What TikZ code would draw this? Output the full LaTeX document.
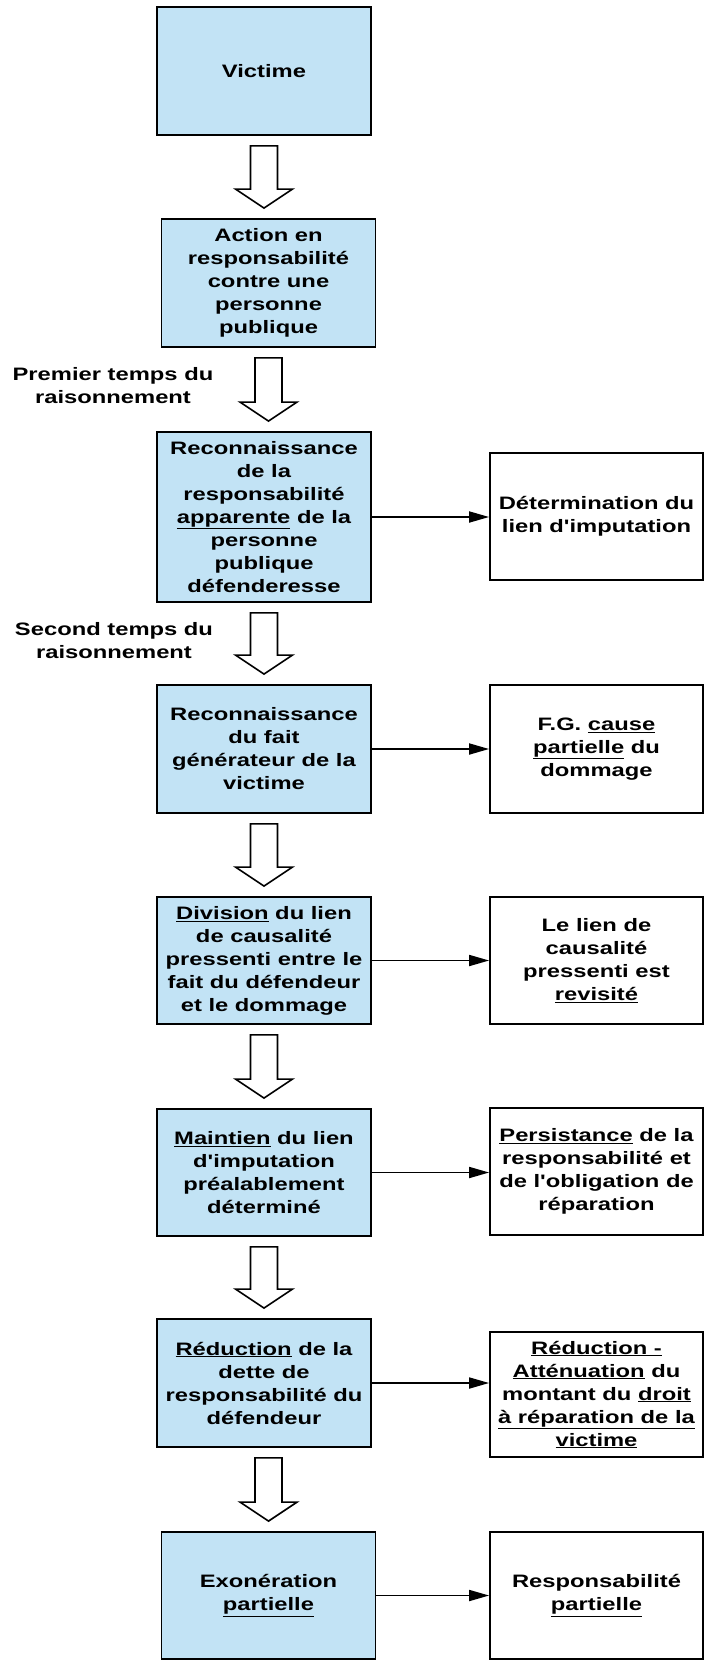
\documentclass[tikz,border=0pt]{standalone}
\usepackage{fontspec}
\newfontfamily\boxfont{Liberation Sans}[FakeStretch=1.32]
\usepackage{tikz}
\usetikzlibrary{arrows.meta}
\usetikzlibrary{calc}
\definecolor{boxblue}{RGB}{194,227,245}

% hollow block arrow between two boxes (optional x shift)
\newcommand{\bigarrow}[3][0pt]{%
\draw[hollow] let \p1=(#2.south), \p2=(#3.north) in
 (\x1+#1-13.5pt,\y1-10pt) -- (\x1+#1+13.5pt,\y1-10pt) -- (\x1+#1+13.5pt,\y2+29pt)
 -- (\x1+#1+28.5pt,\y2+29pt) -- (\x1+#1,\y2+10pt) -- (\x1+#1-28.5pt,\y2+29pt)
 -- (\x1+#1-13.5pt,\y2+29pt) -- cycle;}

\begin{document}
\begin{tikzpicture}[x=1pt,y=-1pt]
\tikzstyle{every node}=[font=\boxfont\bfseries\fontsize{18}{23}\selectfont,align=center]
\tikzstyle{leftbox}=[draw=black,line width=1.8pt,fill=boxblue,minimum width=214pt,minimum height=128pt,inner sep=0pt]
\tikzstyle{rightbox}=[draw=black,line width=1.8pt,fill=white,minimum width=213pt,minimum height=127pt,inner sep=0pt]
\tikzstyle{phase}=[inner sep=0pt]
\tikzstyle{hollow}=[draw=black,line width=1.6pt,fill=white,line join=miter]
\tikzstyle{link}=[-{Triangle[length=20pt,width=11pt]},line width=1.8pt]
\useasboundingbox (0,0) rectangle (706,1664);

% left column
\node[leftbox] (victime) at (264,71) {Victime};
\node[leftbox] (action) at (268.5,283) {Action en\\responsabilité\\contre une\\personne\\publique};
\node[leftbox,minimum height=170pt] (apparente) at (264,517) {Reconnaissance\\de la\\responsabilité\\\underline{apparente} de la\\personne\\publique\\défenderesse};
\node[leftbox] (fait) at (264,749) {Reconnaissance\\du fait\\générateur de la\\victime};
\node[leftbox,minimum height=127pt] (division) at (264,960.5) {\underline{Division} du lien\\de causalité\\pressenti entre le\\fait du défendeur\\et le dommage};
\node[leftbox,minimum height=127pt] (maintien) at (264,1172.5) {\underline{Maintien} du lien\\d'imputation\\préalablement\\déterminé};
\node[leftbox] (dette) at (264,1383) {\underline{Réduction} de la\\dette de\\responsabilité du\\défendeur};
\node[leftbox,minimum height=127pt] (exoneration) at (268.5,1595.5) {Exonération\\\underline{partielle}};

% right column
\node[rightbox] (imputation) at (596.5,516.5) {Détermination du\\lien d'imputation};
\node[rightbox,minimum height=128pt] (cause) at (596.5,749) {F.G. \underline{cause}\\\underline{partielle} du\\dommage};
\node[rightbox] (revisite) at (596.5,960.5) {Le lien de\\causalité\\pressenti est\\\underline{revisité}};
\node[rightbox] (persistance) at (596.5,1171.5) {\underline{Persistance} de la\\responsabilité et\\de l'obligation de\\réparation};
\node[rightbox,minimum height=125pt] (attenuation) at (596.5,1394.5) {\underline{Réduction -}\\\underline{Atténuation} du\\montant du \underline{droit}\\\underline{à réparation de la}\\\underline{victime}};
\node[rightbox] (partielle) at (596.5,1595.5) {Responsabilité\\\underline{partielle}};

% phases
\node[phase] (premier) at (113,386) {Premier temps du\\raisonnement};
\node[phase] (second) at (114,641) {Second temps du\\raisonnement};

% block arrows
\bigarrow{victime}{action}
\bigarrow{action}{apparente}
\bigarrow{apparente}{fait}
\bigarrow{fait}{division}
\bigarrow{division}{maintien}
\bigarrow{maintien}{dette}
\bigarrow[4.5pt]{dette}{exoneration}

% links
\draw[link] (apparente.east) -- (apparente.east -| imputation.west);
\draw[link] (fait.east) -- (fait.east -| cause.west);
\draw[link] (division.east) -- (division.east -| revisite.west);
\draw[link] (maintien.east) -- (maintien.east -| persistance.west);
\draw[link] (dette.east) -- (dette.east -| attenuation.west);
\draw[link] (exoneration.east) -- (exoneration.east -| partielle.west);
\end{tikzpicture}
\end{document}
